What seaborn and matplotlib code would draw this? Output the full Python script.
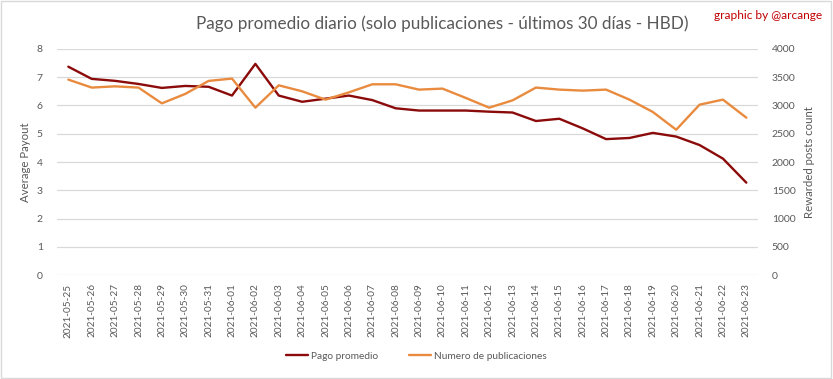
import pandas as pd
import seaborn as sns
import matplotlib.pyplot as plt
from matplotlib.patches import Rectangle

# Datos
fechas = pd.date_range("2021-05-25", "2021-06-23").strftime("%Y-%m-%d").tolist()

pago_promedio = [7.37, 6.94, 6.87, 6.76, 6.62, 6.69, 6.66, 6.35, 7.47, 6.35,
                 6.13, 6.24, 6.35, 6.19, 5.90, 5.82, 5.82, 5.82, 5.78, 5.75,
                 5.45, 5.53, 5.19, 4.81, 4.85, 5.03, 4.90, 4.60, 4.12, 3.27]

numero_publicaciones = [3457, 3316, 3338, 3316, 3037, 3204, 3434, 3475, 2961, 3356,
                        3250, 3103, 3232, 3374, 3374, 3280, 3298, 3133, 2961, 3090,
                        3316, 3280, 3262, 3280, 3103, 2885, 2571, 3014, 3103, 2784]

rojo = "#8B0A0A"
naranja = "#E98B3F"
gris = "#595959"

df = pd.DataFrame({"fecha": fechas, "pago": pago_promedio, "posts": numero_publicaciones})

sns.set_style("white")
plt.rcParams["font.family"] = ["Lato", "DejaVu Sans"]

fig = plt.figure(figsize=(8.33, 3.79), dpi=100)
ax = fig.add_axes([0.068, 0.274, 0.842, 0.597])
ax2 = ax.twinx()

sns.lineplot(data=df, x="fecha", y="pago", ax=ax, color=rojo, lw=1.7, sort=False,
             label="Pago promedio", legend=False)
sns.lineplot(data=df, x="fecha", y="posts", ax=ax2, color=naranja, lw=1.7, sort=False,
             label="Numero de publicaciones", legend=False)

ax.set_ylim(0, 8)
ax2.set_ylim(0, 4000)
ax.set_xlim(-0.5, len(fechas) - 0.5)
ax.set_yticks(range(0, 9))
ax2.set_yticks(range(0, 4001, 500))
ax.grid(axis="y", color="#D9D9D9", lw=0.9)
ax.set_axisbelow(True)

for a in (ax, ax2):
    for s in a.spines.values():
        s.set_visible(False)
    a.tick_params(length=0, colors=gris, labelsize=7.5)

ax.tick_params(axis="x", rotation=90, pad=6, labelsize=7.2)
ax.tick_params(axis="y", pad=10)
ax2.tick_params(axis="y", pad=10)

ax.set_xlabel("")
ax.set_ylabel("Average Payout", color=gris, fontsize=8.2)
ax2.set_ylabel("Rewarded posts count", color=gris, fontsize=8.2, labelpad=6)

fig.text(0.531, 0.938, "Pago promedio diario (solo publicaciones - últimos 30 días - HBD)",
         ha="center", va="center", fontsize=12.3, color=gris)
fig.text(0.987, 0.958, "graphic by @arcange", ha="right", va="center",
         fontsize=8.6, color="#C00000")

h1, l1 = ax.get_legend_handles_labels()
h2, l2 = ax2.get_legend_handles_labels()
fig.legend(h1 + h2, l1 + l2, loc="center", bbox_to_anchor=(0.5, 0.06), ncol=2,
           frameon=False, fontsize=7.3, labelcolor=gris, handlelength=2.2,
           columnspacing=3, handletextpad=0.3)

fig.patches.append(Rectangle((0.001, 0.003), 0.997, 0.994, transform=fig.transFigure,
                             fill=False, edgecolor="#D9D9D9", lw=1))

fig.savefig("out.png", dpi=100)
